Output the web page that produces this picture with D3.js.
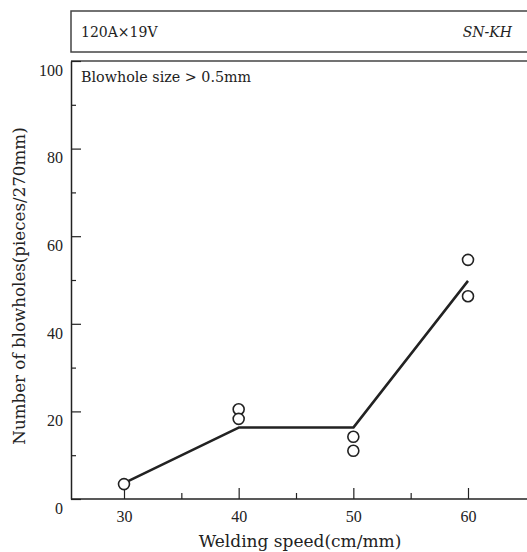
<!DOCTYPE html>
<html>
<head>
<meta charset="utf-8">
<script src="https://cdn.jsdelivr.net/npm/d3@7"></script>
<style>
  body { margin: 0; background: #fff; }
  svg { display: block; font-family: "DejaVu Serif", serif; }
</style>
</head>
<body>
<div id="chart"></div>
<script>
// --- data ---
const speeds = [30, 40, 40, 50, 50, 60, 60];
const blowholes = [3.4, 20.5, 18.3, 14.2, 11.0, 54.6, 46.3];
const trendSpeeds = [30, 40, 50, 60];
const trendValues = [3.6, 16.3, 16.3, 49.8];
const xMajorTicks = [30, 40, 50, 60];
const xMinorTicks = [35, 45, 55];
const yMajorTicks = [0, 20, 40, 60, 80, 100];
const yMinorTicks = [10, 30, 50, 70, 90];

const W = 527, H = 552;
const plotLeft = 71, plotTop = 61, plotBottom = 499;

const svg = d3.select('#chart').append('svg')
    .attr('width', W).attr('height', H);

const x = d3.scaleLinear().domain([30, 60]).range([124, 468]);
const y = d3.scaleLinear().domain([0, 100]).range([plotBottom, plotTop]);

const ink = '#222';
const digitFont = '"Liberation Serif", serif';

// header box
svg.append('rect')
    .attr('x', plotLeft).attr('y', 11)
    .attr('width', W).attr('height', 41)
    .attr('fill', 'none').attr('stroke', '#444').attr('stroke-width', 1.5);
svg.append('text')
    .attr('x', 81).attr('y', 37)
    .attr('font-size', 14).attr('fill', ink)
    .text('120A×19V');
svg.append('text')
    .attr('x', 512).attr('y', 37)
    .attr('font-size', 14).attr('font-style', 'italic')
    .attr('text-anchor', 'end').attr('fill', ink)
    .text('SN-KH');

// plot frame: top line
svg.append('line')
    .attr('x1', plotLeft).attr('x2', W)
    .attr('y1', plotTop).attr('y2', plotTop)
    .attr('stroke', '#444').attr('stroke-width', 1.5);

// y axis (ticks pointing inward)
const yAxis = d3.axisLeft(y).tickValues(yMajorTicks).tickSizeInner(-10).tickSizeOuter(0);
const gy = svg.append('g').attr('transform', `translate(${plotLeft},0)`).call(yAxis);
gy.select('.domain').attr('stroke', ink).attr('stroke-width', 1.5);
gy.selectAll('.tick line').attr('stroke', ink).attr('stroke-width', 1.2);
gy.selectAll('.tick text')
    .attr('x', -8)
    .attr('dy', '0.9em')
    .attr('font-size', 16).attr('fill', ink)
    .attr('font-family', digitFont);
const gyMinor = svg.append('g').attr('transform', `translate(${plotLeft},0)`)
    .call(d3.axisLeft(y).tickValues(yMinorTicks).tickSizeInner(-5).tickSizeOuter(0).tickFormat(''));
gyMinor.select('.domain').remove();
gyMinor.selectAll('.tick line').attr('stroke', ink).attr('stroke-width', 1.2);

// x axis (ticks pointing up)
svg.append('line')
    .attr('x1', plotLeft).attr('x2', W)
    .attr('y1', plotBottom).attr('y2', plotBottom)
    .attr('stroke', ink).attr('stroke-width', 1.5);
const gx = svg.append('g').attr('transform', `translate(0,${plotBottom})`)
    .call(d3.axisBottom(x).tickValues(xMajorTicks).tickSizeInner(-11).tickSizeOuter(0));
gx.select('.domain').remove();
gx.selectAll('.tick line').attr('stroke', ink).attr('stroke-width', 1.2);
gx.selectAll('.tick text')
    .attr('y', 12)
    .attr('font-size', 16).attr('fill', ink)
    .attr('font-family', digitFont);
const gxMinor = svg.append('g').attr('transform', `translate(0,${plotBottom})`)
    .call(d3.axisBottom(x).tickValues(xMinorTicks).tickSizeInner(-6).tickSizeOuter(0).tickFormat(''));
gxMinor.select('.domain').remove();
gxMinor.selectAll('.tick line').attr('stroke', ink).attr('stroke-width', 1.2);

// axis titles
svg.append('text')
    .attr('x', 300).attr('y', 547)
    .attr('text-anchor', 'middle')
    .attr('font-size', 17).attr('fill', ink)
    .text('Welding speed(cm/mm)');
svg.append('text')
    .attr('transform', `translate(25,286) rotate(-90)`)
    .attr('text-anchor', 'middle')
    .attr('font-size', 16.7).attr('fill', ink)
    .text('Number of blowholes(pieces/270mm)');

// annotation
svg.append('text')
    .attr('x', 81).attr('y', 82)
    .attr('font-size', 14.3).attr('fill', ink)
    .text('Blowhole size > 0.5mm');

// trend line
const line = d3.line().x(d => x(d[0])).y(d => y(d[1]));
svg.append('path')
    .datum(d3.zip(trendSpeeds, trendValues))
    .attr('d', line)
    .attr('fill', 'none').attr('stroke', ink).attr('stroke-width', 2.5)
    .attr('stroke-linejoin', 'round');

// measured points
svg.append('g').selectAll('circle')
    .data(d3.zip(speeds, blowholes))
    .join('circle')
    .attr('cx', d => x(d[0]))
    .attr('cy', d => y(d[1]))
    .attr('r', 5.5)
    .attr('fill', '#fff')
    .attr('stroke', ink).attr('stroke-width', 1.6);
</script>
</body>
</html>
